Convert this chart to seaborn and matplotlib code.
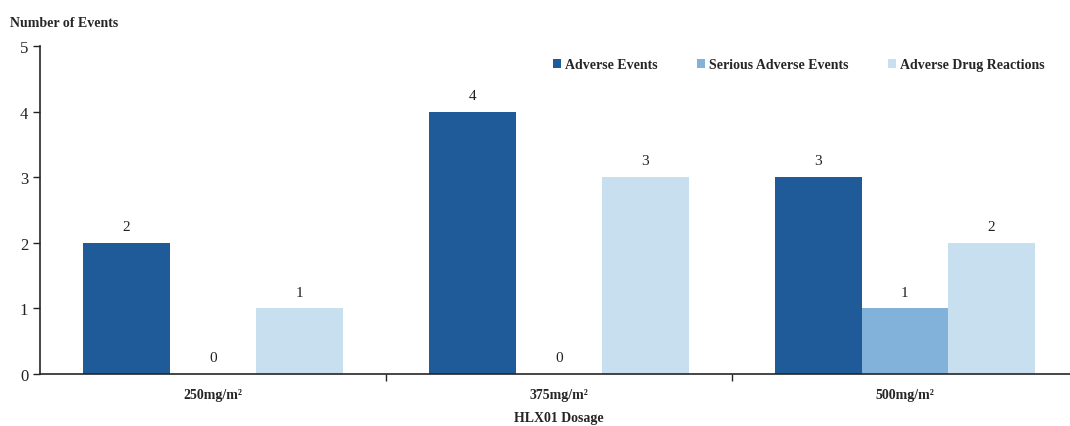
import matplotlib
matplotlib.use("Agg")
import matplotlib.pyplot as plt
import seaborn as sns
import pandas as pd

dosages = ["250mg/m²", "375mg/m²", "500mg/m²"]
series = ["Adverse Events", "Serious Adverse Events", "Adverse Drug Reactions"]
adverse = [2, 4, 3]
serious = [0, 0, 1]
drug_reactions = [1, 3, 2]
colors = ["#1f5a99", "#82b2d9", "#c8dfef"]

df = pd.DataFrame({
    "dosage": dosages * 3,
    "series": [series[0]] * 3 + [series[1]] * 3 + [series[2]] * 3,
    "count": adverse + serious + drug_reactions,
})

sns.set_style("ticks")
plt.rcParams["font.family"] = ["Liberation Serif", "DejaVu Serif"]

fig = plt.figure(figsize=(10.7, 4.27), dpi=100)
ax = fig.add_axes([0.0374, 0.122, 0.97, 0.768])

sns.barplot(data=df, x="dosage", y="count", hue="series", order=dosages,
            hue_order=series, palette=colors, width=0.75, saturation=1,
            linewidth=0, ax=ax, legend=True)

for cont in ax.containers:
    ax.bar_label(cont, fmt="%d", padding=7, fontsize=11, color="#222222")

ax.set_xlim(-0.5, 2.5)
ax.set_ylim(0, 5)
ax.set_yticks(range(6))
ax.tick_params(axis="y", labelsize=12, length=5, width=1, direction="out", colors="#222222")
ax.tick_params(axis="x", which="major", length=0, pad=10, labelsize=10)
ax.set_xticks([0.5, 1.5], minor=True)
ax.tick_params(axis="x", which="minor", length=5, width=1, direction="out")
for lab in ax.get_xticklabels():
    lab.set_fontweight("bold")

sns.despine(ax=ax)
ax.spines["left"].set_linewidth(1.2)
ax.spines["bottom"].set_linewidth(1.2)

ax.set_ylabel("")
ax.set_xlabel("HLX01 Dosage", fontsize=10, fontweight="bold", labelpad=7)
fig.text(0.009, 0.945, "Number of Events", fontsize=10, fontweight="bold", ha="left", va="center")

ax.legend(loc="upper right", bbox_to_anchor=(0.98, 1.0), ncol=3, frameon=False,
          prop={"weight": "bold", "size": 10}, handlelength=0.6, handleheight=0.6,
          handletextpad=0.3, columnspacing=2.8)

fig.savefig("out.png", dpi=100)
